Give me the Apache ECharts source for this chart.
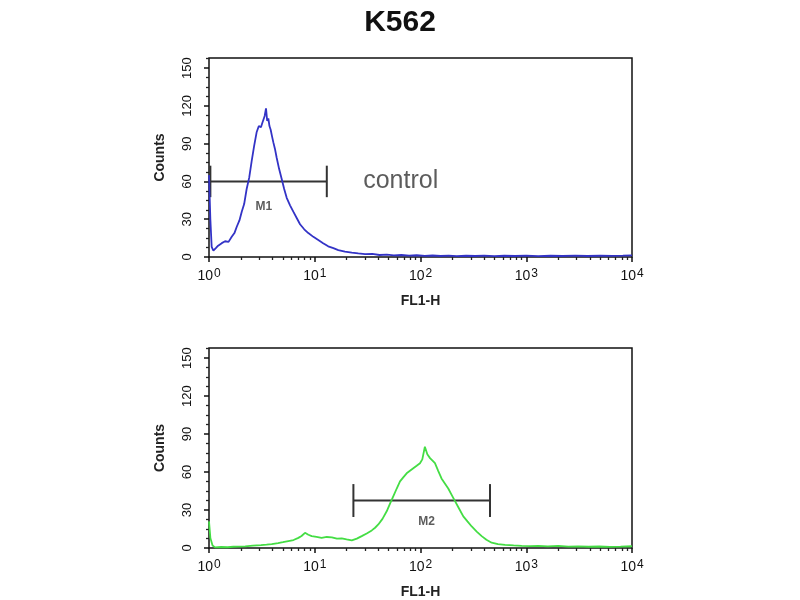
<!DOCTYPE html>
<html><head><meta charset="utf-8">
<script src="https://cdn.jsdelivr.net/npm/echarts@6/dist/echarts.min.js"></script>
<style>html,body{margin:0;padding:0;background:#fff}#c{width:800px;height:600px}</style>
</head><body><div id="c"></div>
<script>
// ---------- data ----------
const chartTitle = 'K562';
const xAxisName = 'FL1-H';
const yAxisName = 'Counts';
const yTicks = [0, 30, 60, 90, 120, 150];
const yMinorTicks = [7.5, 15, 22.5, 37.5, 45, 52.5, 67.5, 75, 82.5, 97.5, 105, 112.5, 127.5, 135, 142.5, 157.5];
const xMinorTicks = [2,3,4,5,6,7,8,9, 20,30,40,50,60,70,80,90, 200,300,400,500,600,700,800,900, 2000,3000,4000,5000,6000,7000,8000,9000];

const ctrlFL = [1, 1.03, 1.06, 1.10, 1.16, 1.22, 1.32, 1.42, 1.53, 1.64, 1.74, 1.83, 1.94, 2.04, 2.15, 2.27, 2.40, 2.53, 2.67, 2.82, 2.96, 3.10, 3.18, 3.27, 3.36, 3.46, 3.55, 3.64, 3.73, 3.83, 3.94, 4.06, 4.20, 4.36, 4.60, 4.87, 5.14, 5.43, 5.84, 6.27, 6.75, 7.26, 7.95, 8.69, 9.70, 10.8, 12.0, 13.4, 15.0, 16.7, 19.3, 22.4, 25.8, 29.9, 35, 41, 48, 56, 66, 78, 92, 110, 130, 155, 185, 220, 270, 330, 400, 500, 620, 780, 1000, 1300, 1700, 2200, 2900, 3800, 5000, 6500, 8200, 10000];
const ctrlCounts = [65, 30, 8, 5, 7, 9, 11, 12.5, 12, 16, 19, 24, 29, 36, 42, 54, 63, 76, 88, 99, 104, 103, 106, 109, 112, 118, 108, 110, 104, 101, 96, 91, 86, 79, 70, 62, 54, 47, 41, 36, 31, 26, 22, 19, 16, 13.5, 11, 8.5, 7, 5.5, 4.2, 3.4, 2.8, 2.3, 2.4, 1.6, 1.9, 1.3, 1.6, 1.1, 1.4, 0.9, 1.2, 0.8, 1.1, 0.7, 1.0, 0.8, 1.1, 0.7, 1.0, 0.8, 1.1, 0.7, 1.0, 0.8, 1.1, 0.8, 1.0, 0.9, 1.1, 1.3];

const sampleFL = [1, 1.03, 1.08, 1.14, 1.3, 1.5, 1.7, 1.89, 2.2, 2.6, 3.1, 3.5, 3.92, 4.5, 5.0, 5.62, 6.3, 7.0, 7.5, 8.09, 8.7, 9.36, 10.4, 11.6, 13.0, 14.5, 16.2, 18.0, 20.0, 22.4, 25.0, 27.8, 31.0, 34.6, 37.2, 39.9, 43.7, 47.9, 51.5, 55.4, 59.6, 64, 69, 74, 79.5, 85.5, 92, 98.9, 104, 110, 116, 123, 130, 137, 147, 158, 170, 183, 197, 212, 232, 254, 278, 305, 340, 379, 420, 471, 540, 630, 760, 906, 1100, 1300, 1600, 2010, 2500, 3100, 3900, 4900, 6200, 7800, 10000];
const sampleCounts = [21, 8, 2, 0.5, 0.8, 0.6, 1.0, 1.1, 1.3, 1.8, 2.2, 2.6, 3.0, 3.8, 4.6, 5.5, 6.3, 8, 9.5, 12, 10.5, 9.4, 8.8, 8.0, 8.7, 8.4, 7.4, 7.6, 6.8, 6.0, 7.4, 9.4, 11.5, 13.9, 16, 18.6, 23, 29, 35, 41, 47, 52.6, 56, 59, 61, 63, 65, 67, 70, 80, 74, 71, 69, 67, 61, 55, 51, 47, 42, 37, 31, 25, 21, 17, 13, 9.4, 6.5, 4.2, 3.0, 2.5, 2.0, 1.7, 1.5, 1.7, 1.3, 1.6, 1.1, 1.3, 1.0, 1.2, 0.9, 1.1, 1.4];

// marker gates
const markerNames = ['M1', 'M2'];
const markerFrom = [1.03, 23.2];
const markerTo = [13, 454];
const markerLevel = [60, 37.5];
const markerHalfCap = [12.5, 13];
const markerLabelX = [3.3, 114];
const markerLabelY = [40, 21];

const annotationText = 'control';
const annotationX = 65;
const annotationY = 60;

// ---------- chart ----------
const FONT = "'Liberation Sans', Arial, sans-serif";
const grids = [
  { left: 209, top: 58, width: 423, height: 199 },
  { left: 209, top: 348, width: 423, height: 200 }
];
const curveColors = ['#3333c6', '#44dd44'];
const curves = [[ctrlFL, ctrlCounts], [sampleFL, sampleCounts]];

const xAxes = [], yAxes = [], series = [];
grids.forEach((g, i) => {
  xAxes.push({
    type: 'log', logBase: 10, gridIndex: i, min: 1, max: 10000, position: 'bottom',
    axisLine: { show: false },
    axisTick: { show: true, inside: false, length: 5, lineStyle: { color: '#111', width: 1.5 } },
    splitLine: { show: false },
    axisLabel: {
      margin: 11,
      formatter: v => '{b|10}{s|' + Math.round(Math.log10(v)) + '}',
      rich: {
        b: { fontSize: 14, lineHeight: 15, verticalAlign: 'bottom', color: '#111', fontFamily: FONT },
        s: { fontSize: 12, lineHeight: 13, verticalAlign: 'top', padding: [0, 0, 9, 1], color: '#111', fontFamily: FONT }
      }
    },
    name: xAxisName, nameLocation: 'middle', nameGap: 37,
    nameTextStyle: { fontSize: 14, fontWeight: 'bold', color: '#222', fontFamily: FONT }
  });
  xAxes.push({
    type: 'value', gridIndex: i, min: 0, max: 4, position: 'bottom',
    axisLine: { show: false }, axisLabel: { show: false }, splitLine: { show: false },
    axisTick: { show: true, inside: false, length: 3, customValues: xMinorTicks.map(v => Math.log10(v)),
      lineStyle: { color: '#222', width: 1.3 } }
  });
  yAxes.push({
    type: 'value', gridIndex: i, min: 0, max: 158, interval: 30, position: 'left',
    axisLine: { show: false }, splitLine: { show: false },
    axisTick: { show: true, inside: false, length: 5, customValues: yTicks, lineStyle: { color: '#111', width: 1.5 } },
    axisLabel: { customValues: yTicks, rotate: 90, margin: 15, fontSize: 13, color: '#111', fontFamily: FONT },
    name: yAxisName, nameLocation: 'middle', nameRotate: 90, nameGap: 42,
    nameTextStyle: { fontSize: 14, fontWeight: 'bold', color: '#222', fontFamily: FONT }
  });
  yAxes.push({
    type: 'value', gridIndex: i, min: 0, max: 158, position: 'left',
    axisLine: { show: false }, axisLabel: { show: false }, splitLine: { show: false },
    axisTick: { show: true, inside: false, length: 3, customValues: yMinorTicks, lineStyle: { color: '#222', width: 1.3 } }
  });

  const [fx, fy] = curves[i];
  series.push({
    type: 'line', xAxisIndex: 2 * i, yAxisIndex: 2 * i, showSymbol: false, symbol: 'none',
    data: fx.map((x, k) => [x, fy[k]]),
    lineStyle: { color: curveColors[i], width: 1.8 }, z: 3
  });
  // marker gate
  const mStyle = { color: '#333', width: 2 };
  const segs = [
    [[markerFrom[i], markerLevel[i]], [markerTo[i], markerLevel[i]]],
    [[markerFrom[i], markerLevel[i] - markerHalfCap[i]], [markerFrom[i], markerLevel[i] + markerHalfCap[i]]],
    [[markerTo[i], markerLevel[i] - markerHalfCap[i]], [markerTo[i], markerLevel[i] + markerHalfCap[i]]]
  ];
  segs.forEach(s => series.push({
    type: 'line', xAxisIndex: 2 * i, yAxisIndex: 2 * i, symbol: 'none', data: s,
    lineStyle: mStyle, z: 2
  }));
  series.push({
    type: 'scatter', xAxisIndex: 2 * i, yAxisIndex: 2 * i, symbolSize: 0,
    data: [[markerLabelX[i], markerLabelY[i]]],
    label: { show: true, position: 'inside', formatter: markerNames[i], fontSize: 12, fontWeight: 'bold', color: '#333', fontFamily: FONT }
  });
});
series.push({
  type: 'scatter', xAxisIndex: 0, yAxisIndex: 0, symbolSize: 0,
  data: [[annotationX, annotationY]],
  label: { show: true, position: 'inside', formatter: annotationText, fontSize: 25, color: '#333', fontFamily: FONT }
});

const chart = echarts.init(document.getElementById('c'));
chart.setOption({
  animation: false,
  backgroundColor: '#fff',
  textStyle: { fontFamily: FONT },
  title: { text: chartTitle, left: 'center', top: 3,
    textStyle: { fontSize: 30, fontWeight: 'bold', color: '#111', fontFamily: FONT } },
  grid: grids.map(g => Object.assign({ show: true, borderColor: '#111', borderWidth: 1.5, backgroundColor: 'transparent' }, g)),
  xAxis: xAxes,
  yAxis: yAxes,
  series: series
});
</script>
</body></html>
